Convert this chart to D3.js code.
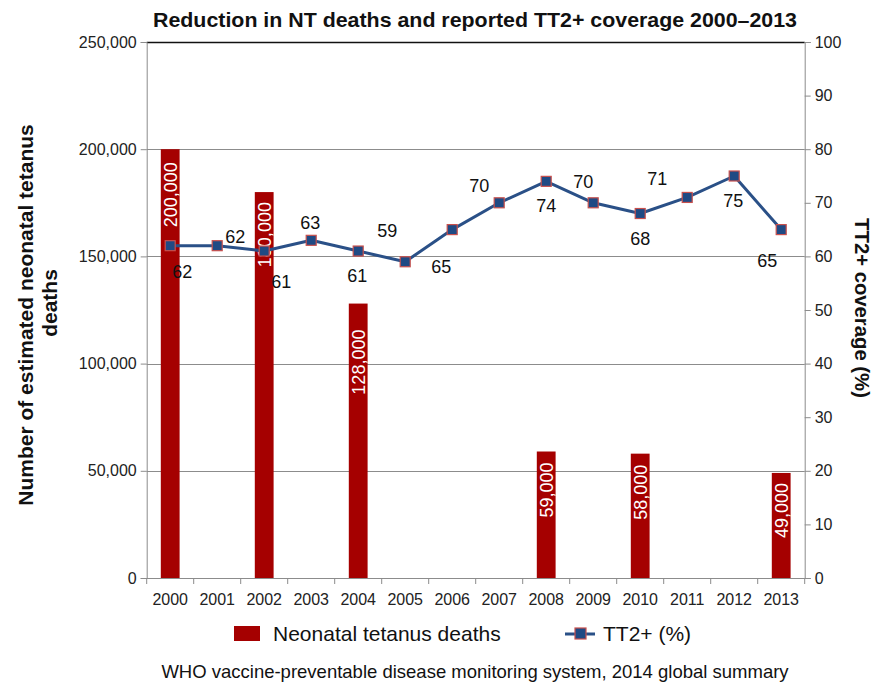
<!DOCTYPE html>
<html>
<head>
<meta charset="utf-8">
<script src="https://cdn.jsdelivr.net/npm/d3@7/dist/d3.min.js"></script>
<style>
  html, body { margin: 0; padding: 0; background: #fff; }
  text { font-family: "Liberation Sans", Arial, sans-serif; }
</style>
</head>
<body>
<svg id="chart" width="874" height="683"></svg>
<script>
// ---- Data ----
const years = ["2000","2001","2002","2003","2004","2005","2006","2007","2008","2009","2010","2011","2012","2013"];
const deaths = [200000, null, 180000, null, 128000, null, null, null, 59000, null, 58000, null, null, 49000];
const coverage = [62, 62, 61, 63, 61, 59, 65, 70, 74, 70, 68, 71, 75, 65];
const leftTicks = [0, 50000, 100000, 150000, 200000, 250000];
const rightTicks = [0, 10, 20, 30, 40, 50, 60, 70, 80, 90, 100];

// ---- Label placement (style, not data) ----
const lineLabelOffsets = [[12,26],[18,-9],[17,30],[-1,-18],[-1,24],[-18,-31],[-11,37],[-20,-17],[0,24],[-10,-21],[0,25],[-30,-19],[-1,25],[-14,31]];
const barLabelInset = {"2000":13, "2002":10, "2004":26, "2008":11, "2010":11, "2013":10};

const svg = d3.select("#chart");
const m = {left: 146.7, right: 874 - 804.7, top: 42, bottom: 683 - 578};
const W = 874, H = 683;
const x = d3.scaleBand().domain(years).range([m.left, W - m.right]);
const yL = d3.scaleLinear().domain([0, 250000]).range([H - m.bottom, m.top]);
const yR = d3.scaleLinear().domain([0, 100]).range([H - m.bottom, m.top]);

const barColor = "#a50000", lineColor = "#2a5087", markFill = "#1f4a84", markStroke = "#c8504d";
const gridColor = "#8c8c8c";

// gridlines
svg.append("g").selectAll("line").data(leftTicks.filter(d => d > 0 && d < 250000)).join("line")
  .attr("x1", m.left).attr("x2", W - m.right)
  .attr("y1", d => Math.round(yL(d)) + 0.5).attr("y2", d => Math.round(yL(d)) + 0.5)
  .attr("stroke", gridColor).attr("stroke-width", 1);

// bars
const barData = years.map((y, i) => ({year: y, v: deaths[i]})).filter(d => d.v != null);
const bw = x.bandwidth() * 0.4;
svg.append("g").selectAll("rect").data(barData).join("rect")
  .attr("x", d => x(d.year) + x.bandwidth()/2 - bw/2)
  .attr("width", bw)
  .attr("y", d => yL(d.v))
  .attr("height", d => yL(0) - yL(d.v))
  .attr("fill", barColor);

// top border
svg.append("line").attr("x1", m.left).attr("x2", W - m.right)
  .attr("y1", m.top + 0.5).attr("y2", m.top + 0.5).attr("stroke", "#111").attr("stroke-width", 1.3);

// axes
const fmt = d3.format(",");
const gL = svg.append("g").attr("transform", `translate(${m.left},0)`)
  .call(d3.axisLeft(yL).tickValues(leftTicks).tickFormat(fmt).tickSize(6).tickPadding(4));
const gR = svg.append("g").attr("transform", `translate(${W - m.right},0)`)
  .call(d3.axisRight(yR).tickValues(rightTicks).tickSize(6).tickPadding(4));
const gX = svg.append("g").attr("transform", `translate(0,${H - m.bottom})`)
  .call(d3.axisBottom(x).tickSize(0).tickPadding(16));
// x ticks at category boundaries
gX.append("g").selectAll("line").data(d3.range(years.length + 1)).join("line")
  .attr("x1", i => m.left + i * x.step()).attr("x2", i => m.left + i * x.step())
  .attr("y1", 0).attr("y2", 6).attr("stroke", gridColor);

[gL, gR, gX].forEach(g => {
  g.selectAll(".domain").attr("stroke", gridColor);
  g.selectAll(".tick line").attr("stroke", gridColor);
  g.selectAll("text").attr("font-size", "16px").attr("fill", "#222")
    .attr("font-family", '"Liberation Sans", Arial, sans-serif');
});
gX.select(".domain").attr("d", `M${m.left},0.5H${W - m.right}`);

// bar labels
svg.append("g").selectAll("text").data(barData).join("text")
  .attr("transform", d => `translate(${x(d.year) + x.bandwidth()/2 + 6.5},${yL(d.v) + barLabelInset[d.year]}) rotate(-90)`)
  .attr("text-anchor", "end")
  .attr("font-size", "18px").attr("fill", "#fff")
  .text(d => fmt(d.v));

// line
const pts = years.map((y, i) => ({year: y, v: coverage[i], i}));
svg.append("path").datum(pts)
  .attr("d", d3.line().x(d => x(d.year) + x.bandwidth()/2).y(d => yR(d.v)))
  .attr("fill", "none").attr("stroke", lineColor).attr("stroke-width", 3).attr("stroke-linejoin", "round");
svg.append("g").selectAll("rect").data(pts).join("rect")
  .attr("x", d => x(d.year) + x.bandwidth()/2 - 5)
  .attr("y", d => yR(d.v) - 5)
  .attr("width", 10).attr("height", 10)
  .attr("fill", markFill).attr("stroke", markStroke).attr("stroke-width", 1.2);
svg.append("g").selectAll("text").data(pts).join("text")
  .attr("x", d => x(d.year) + x.bandwidth()/2 + lineLabelOffsets[d.i][0])
  .attr("y", d => yR(d.v) + lineLabelOffsets[d.i][1])
  .attr("dy", "0.36em")
  .attr("text-anchor", "middle").attr("font-size", "18px").attr("fill", "#111")
  .text(d => d.v);

// title
svg.append("text").attr("x", 475).attr("y", 27).attr("text-anchor", "middle")
  .attr("font-size", "21px").attr("font-weight", "bold").attr("fill", "#111")
  .attr("textLength", 644).attr("lengthAdjust", "spacingAndGlyphs")
  .text("Reduction in NT deaths and reported TT2+ coverage 2000–2013");

// left axis title
const lt = svg.append("text").attr("transform", "translate(0,312) rotate(-90)")
  .attr("text-anchor", "middle").attr("font-size", "21px").attr("font-weight", "bold").attr("fill", "#111");
lt.append("tspan").attr("x", -3).attr("y", 33).text("Number of estimated neonatal tetanus");
lt.append("tspan").attr("x", 9).attr("y", 57).text("deaths");

// right axis title
svg.append("text").attr("transform", "translate(855,308) rotate(90)")
  .attr("text-anchor", "middle").attr("font-size", "20.3px").attr("font-weight", "bold").attr("fill", "#111")
  .text("TT2+ coverage (%)");

// legend
const lg = svg.append("g");
lg.append("rect").attr("x", 234).attr("y", 626).attr("width", 26).attr("height", 15).attr("fill", barColor);
lg.append("text").attr("x", 273).attr("y", 641).attr("font-size", "21px").attr("fill", "#111").text("Neonatal tetanus deaths");
lg.append("line").attr("x1", 565).attr("x2", 595).attr("y1", 634).attr("y2", 634).attr("stroke", lineColor).attr("stroke-width", 3);
lg.append("rect").attr("x", 575).attr("y", 628).attr("width", 11).attr("height", 11)
  .attr("fill", markFill).attr("stroke", markStroke).attr("stroke-width", 1.2);
lg.append("text").attr("x", 603).attr("y", 641).attr("font-size", "21px").attr("fill", "#111").text("TT2+ (%)");

// source
svg.append("text").attr("x", 475).attr("y", 678).attr("text-anchor", "middle")
  .attr("font-size", "18.5px").attr("fill", "#111")
  .text("WHO vaccine-preventable disease monitoring system, 2014 global summary");
</script>
</body>
</html>
